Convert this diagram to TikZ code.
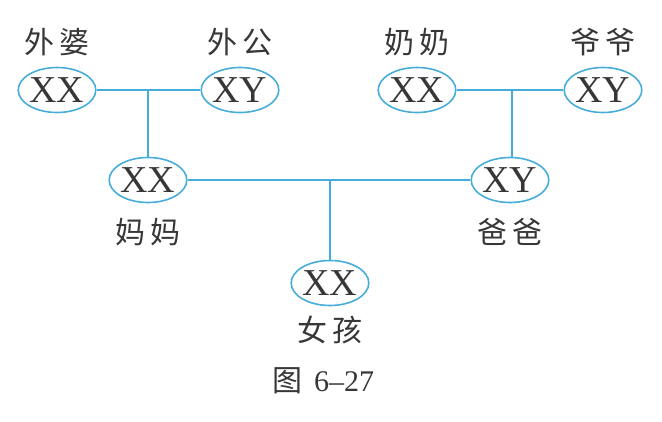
\documentclass[tikz,border=0pt]{standalone}
\usepackage{fontspec}
\setmainfont{Liberation Serif}
\newfontfamily\cjk{Noto Sans CJK SC}
\usetikzlibrary{shapes.geometric}
\definecolor{lineblue}{RGB}{70,172,218}
\definecolor{txt}{RGB}{55,55,55}
\newcommand{\pairtxt}[2]{#1\hspace{5pt}#2}
\tikzset{
  gene/.style={ellipse, draw=lineblue, line width=1.6pt, minimum width=74pt, minimum height=45pt, inner sep=0pt, text=txt, font=\fontsize{38}{38}\selectfont},
  who/.style={text=txt, font=\cjk\fontsize{30}{30}\selectfont, inner sep=0pt},
  link/.style={draw=lineblue, line width=1.6pt}
}
\begin{document}
\begin{tikzpicture}[x=1pt,y=-1pt]
\useasboundingbox (0,0) rectangle (662,421);
\node[gene] (wp) at (57,90) {XX};
\node[gene] (wg) at (240,90) {XY};
\node[gene] (nn) at (417,90) {XX};
\node[gene] (yy) at (603,90) {XY};
\node[gene] (mm) at (148,180) {XX};
\node[gene] (bb) at (510,180) {XY};
\node[gene] (nh) at (330,283) {XX};
\node[who] (lwp) at (57,42) {\pairtxt{外}{婆}};
\node[who] (lwg) at (240,42) {\pairtxt{外}{公}};
\node[who] (lnn) at (417,42) {\pairtxt{奶}{奶}};
\node[who] (lyy) at (603,42) {\pairtxt{爷}{爷}};
\node[who] (lmm) at (148,232) {\pairtxt{妈}{妈}};
\node[who] (lbb) at (510,232) {\pairtxt{爸}{爸}};
\node[who] (lnh) at (330,330) {\pairtxt{女}{孩}};
\node[text=txt, inner sep=0pt] (cap) at (323,381) {{\cjk\fontsize{30}{30}\selectfont 图}\hspace{12pt}{\fontsize{30}{30}\selectfont 6--27}};
\coordinate (j1) at (148,90);
\coordinate (j2) at (512,90);
\coordinate (j3) at (330,180);
\draw[link] (wp) -- (wg);
\draw[link] (nn) -- (yy);
\draw[link] (mm) -- (bb);
\draw[link] (j1) -- (mm);
\draw[link] (j2) -- (j2 |- bb.north);
\draw[link] (j3) -- (nh);
\end{tikzpicture}
\end{document}
